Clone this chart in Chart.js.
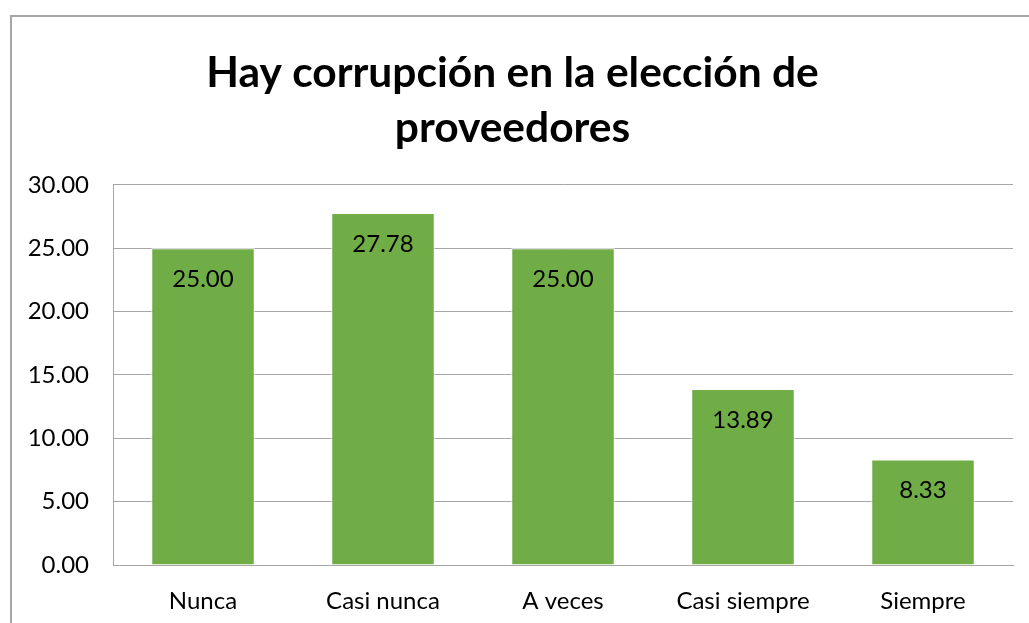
<!DOCTYPE html>
<html><head><meta charset="utf-8">
<script src="https://cdn.jsdelivr.net/npm/chart.js@4/dist/chart.umd.min.js"></script>
<style>
html,body{margin:0;padding:0;background:#fff;overflow:hidden}
#frame{position:absolute;left:10px;top:15px;width:1019px;height:608px;border-left:2px solid #a6a6a6;border-top:2px solid #a6a6a6;box-sizing:border-box}
#c{position:absolute;left:0;top:0}
</style></head><body>
<div id="frame"><canvas id="c" width="1017" height="606"></canvas></div>
<script>
const categories = ["Nunca", "Casi nunca", "A veces", "Casi siempre", "Siempre"];
const values = [25.00, 27.78, 25.00, 13.89, 8.33];
const titleLines = ["Hay corrupción en la elección de", "proveedores"];
const FONT = "Lato, 'Noto Sans', sans-serif";

const labelPlugin = {
  id: 'insideLabels',
  afterDatasetsDraw(chart) {
    const ctx = chart.ctx;
    const meta = chart.getDatasetMeta(0);
    ctx.save();
    ctx.font = "24px " + FONT;
    ctx.fillStyle = "#000";
    ctx.textAlign = "center";
    ctx.textBaseline = "middle";
    meta.data.forEach((bar, i) => {
      ctx.fillText(values[i].toFixed(2), bar.x, bar.y + 31);
    });
    ctx.restore();
  }
};

new Chart(document.getElementById('c'), {
  type: 'bar',
  data: {
    labels: categories,
    datasets: [{
      data: values,
      backgroundColor: '#70ad47',
      borderColor: '#ffffff',
      borderWidth: 1,
      barPercentage: 0.575,
      categoryPercentage: 1
    }]
  },
  options: {
    responsive: false,
    animation: false,
    devicePixelRatio: 1,
    layout: { padding: { left: 0, right: 16, top: 0, bottom: 10 } },
    plugins: {
      legend: { display: false },
      tooltip: { enabled: false },
      title: {
        display: true,
        text: titleLines,
        color: '#000',
        font: { family: FONT, size: 42.5, weight: 'bold', lineHeight: 1.294 },
        padding: { top: 29, bottom: 29 }
      }
    },
    scales: {
      x: {
        afterFit(s) { s.height = 48; },
        grid: { display: false, drawTicks: false },
        border: { display: true, color: '#a6a6a6', width: 1 },
        ticks: { color: '#000', font: { family: FONT, size: 24 }, padding: 22 }
      },
      y: {
        min: 0, max: 30,
        afterFit(s) { s.width = 101; },
        grid: { color: '#a6a6a6', drawTicks: false },
        border: { display: true, color: '#a6a6a6', width: 1 },
        ticks: { stepSize: 5, color: '#000', font: { family: FONT, size: 24 }, padding: 24,
          callback: v => Number(v).toFixed(2) }
      }
    }
  },
  plugins: [labelPlugin]
});
</script>
</body></html>
